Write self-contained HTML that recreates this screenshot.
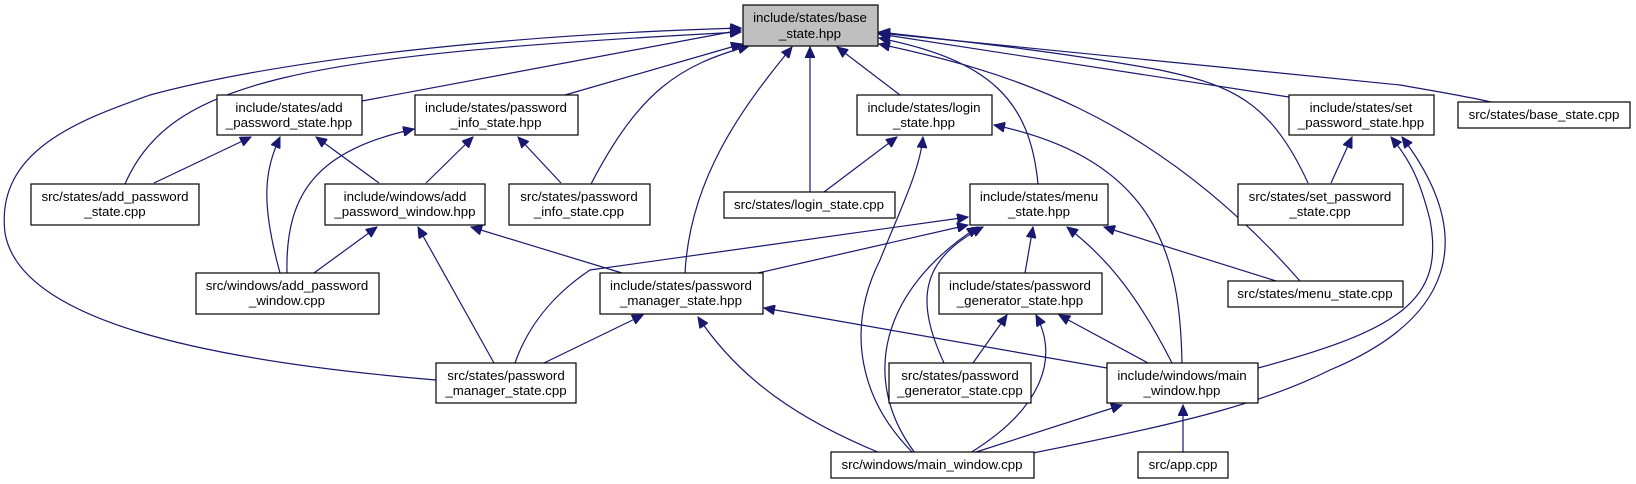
<!DOCTYPE html>
<html><head><meta charset="utf-8"><style>
html,body{margin:0;padding:0;background:#fff;}
svg{display:block;}
text{font-family:"Liberation Sans",Arial,sans-serif;font-size:13.3px;fill:#000;text-anchor:middle;}
.n{fill:#fff;stroke:#000;stroke-width:1.2;}
.e{fill:none;stroke:#191970;stroke-width:1.2;marker-end:url(#a);}
</style></head><body>
<svg width="1636" height="484" viewBox="0 0 1636 484" xmlns="http://www.w3.org/2000/svg">
<defs><marker id="a" markerUnits="userSpaceOnUse" markerWidth="12" markerHeight="10" refX="11" refY="5" orient="auto"><path d="M0,0 L11,5 L0,10 z" fill="#191970" stroke="#191970"/></marker></defs>
<g>
<path class="e" d="M362,101 L741,30"/>
<path class="e" d="M565,95 L742,44"/>
<path class="e" d="M125,184 C170,80 300,55 741,32"/>
<path class="e" d="M436,380 C200,360 20,320 5,233 C-5,150 80,120 150,95 C280,60 500,35 741,28"/>
<path class="e" d="M591,184 C640,90 680,65 749,46"/>
<path class="e" d="M685,273 C690,180 740,110 792,47"/>
<path class="e" d="M810,192 L810,47"/>
<path class="e" d="M900,95 L837,47"/>
<path class="e" d="M1038,184 C1030,100 990,60 879,38"/>
<path class="e" d="M1300,281 C1150,110 1000,70 879,44"/>
<path class="e" d="M1289,97 L879,34"/>
<path class="e" d="M1308,183 C1270,100 1230,85 1160,70 C1050,50 950,40 879,32"/>
<path class="e" d="M1491,102 C1470,97 1440,92 1400,85 L879,33"/>
<path class="e" d="M154,183 L251,137"/>
<path class="e" d="M280,273 C260,200 265,170 280,137"/>
<path class="e" d="M379,183 L316,137"/>
<path class="e" d="M287,273 C285,190 320,150 414,129"/>
<path class="e" d="M426,183 L473,137"/>
<path class="e" d="M561,183 L518,137"/>
<path class="e" d="M314,273 L377,227"/>
<path class="e" d="M494,363 L418,227"/>
<path class="e" d="M622,273 L471,227"/>
<path class="e" d="M824,192 L897,137"/>
<path class="e" d="M913,453 C860,400 845,330 880,260 C900,210 920,170 923,137"/>
<path class="e" d="M1182,363 C1180,260 1160,160 994,125"/>
<path class="e" d="M515,363 C530,320 560,290 590,270 L968,217"/>
<path class="e" d="M758,273 L968,225"/>
<path class="e" d="M915,453 C860,380 880,290 978,227"/>
<path class="e" d="M944,363 C915,300 920,260 983,227"/>
<path class="e" d="M1025,273 L1033,227"/>
<path class="e" d="M1172,363 C1140,300 1110,260 1067,227"/>
<path class="e" d="M1276,281 L1104,227"/>
<path class="e" d="M1331,183 L1352,137"/>
<path class="e" d="M1258,368 C1400,330 1445,300 1430,220 C1420,180 1410,160 1391,137"/>
<path class="e" d="M1033,453 C1200,420 1270,400 1330,370 C1450,320 1480,240 1402,137"/>
<path class="e" d="M544,363 L643,315"/>
<path class="e" d="M880,453 C800,420 740,380 698,317"/>
<path class="e" d="M1107,368 L764,308"/>
<path class="e" d="M973,363 L1007,315"/>
<path class="e" d="M970,453 C1040,410 1060,360 1036,315"/>
<path class="e" d="M1148,363 L1059,315"/>
<path class="e" d="M973,453 L1122,405"/>
<path class="e" d="M1183,452 L1183,405"/>
</g>
<g>
<rect x="743" y="5" width="135" height="41" fill="#bfbfbf" stroke="#000" stroke-width="1.2"/>
<text x="810" y="22">include/states/base</text><text x="810" y="38">_state.hpp</text>

<rect class="n" x="217" y="95" width="145" height="40"/><text x="289" y="112">include/states/add</text><text x="289" y="127">_password_state.hpp</text>
<rect class="n" x="415" y="95" width="163" height="40"/><text x="496" y="112">include/states/password</text><text x="496" y="127">_info_state.hpp</text>
<rect class="n" x="857" y="95" width="135" height="40"/><text x="924" y="112">include/states/login</text><text x="924" y="127">_state.hpp</text>
<rect class="n" x="1289" y="95" width="145" height="40"/><text x="1361" y="112">include/states/set</text><text x="1361" y="127">_password_state.hpp</text>
<rect class="n" x="1458" y="102" width="172" height="26"/><text x="1544" y="119">src/states/base_state.cpp</text>

<rect class="n" x="31" y="184" width="168" height="41"/><text x="115" y="201">src/states/add_password</text><text x="115" y="216">_state.cpp</text>
<rect class="n" x="325" y="184" width="160" height="41"/><text x="405" y="201">include/windows/add</text><text x="405" y="216">_password_window.hpp</text>
<rect class="n" x="509" y="184" width="141" height="41"/><text x="579" y="201">src/states/password</text><text x="579" y="216">_info_state.cpp</text>
<rect class="n" x="724" y="192" width="171" height="26"/><text x="809" y="209">src/states/login_state.cpp</text>
<rect class="n" x="970" y="184" width="138" height="41"/><text x="1039" y="201">include/states/menu</text><text x="1039" y="216">_state.hpp</text>
<rect class="n" x="1238" y="184" width="165" height="41"/><text x="1320" y="201">src/states/set_password</text><text x="1320" y="216">_state.cpp</text>

<rect class="n" x="196" y="273" width="183" height="41"/><text x="287" y="290">src/windows/add_password</text><text x="287" y="305">_window.cpp</text>
<rect class="n" x="600" y="273" width="163" height="41"/><text x="681" y="290">include/states/password</text><text x="681" y="305">_manager_state.hpp</text>
<rect class="n" x="939" y="273" width="163" height="41"/><text x="1020" y="290">include/states/password</text><text x="1020" y="305">_generator_state.hpp</text>
<rect class="n" x="1228" y="281" width="175" height="26"/><text x="1315" y="298">src/states/menu_state.cpp</text>

<rect class="n" x="436" y="363" width="140" height="40"/><text x="506" y="380">src/states/password</text><text x="506" y="395">_manager_state.cpp</text>
<rect class="n" x="889" y="363" width="142" height="40"/><text x="960" y="380">src/states/password</text><text x="960" y="395">_generator_state.cpp</text>
<rect class="n" x="1107" y="363" width="151" height="40"/><text x="1182" y="380">include/windows/main</text><text x="1182" y="395">_window.hpp</text>

<rect class="n" x="831" y="452" width="203" height="26"/><text x="932" y="469">src/windows/main_window.cpp</text>
<rect class="n" x="1138" y="452" width="90" height="26"/><text x="1183" y="469">src/app.cpp</text>
</g>
</svg>
</body></html>
